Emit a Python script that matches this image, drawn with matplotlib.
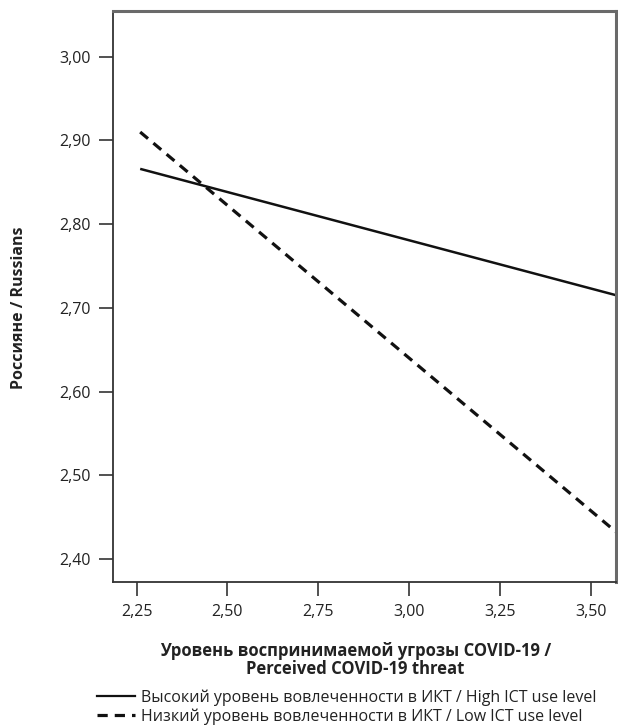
import matplotlib.pyplot as plt
from matplotlib.lines import Line2D
from matplotlib.ticker import FuncFormatter

plt.rcParams['font.family'] = ['Open Sans', 'DejaVu Sans']
plt.rcParams['font.size'] = 11.5

# данные (оценка по картинке)
x_vals = [2.26, 3.57]
high_ict = [2.866, 2.715]   # Высокий уровень
low_ict = [2.910, 2.432]    # Низкий уровень

x_ticks = [2.25, 2.50, 2.75, 3.00, 3.25, 3.50]
y_ticks = [2.40, 2.50, 2.60, 2.70, 2.80, 2.90, 3.00]

fig = plt.figure(figsize=(6.18, 7.27), dpi=100)
ax = fig.add_axes([0.1833, 0.1994, 0.8135, 0.7855])

ax.plot(x_vals, high_ict, color='#111111', lw=1.8, solid_capstyle='butt')
ax.plot(x_vals, low_ict, color='#111111', lw=2.3, ls=(0, (3.2, 2.2)))

ax.set_xlim(2.186, 3.569)
ax.set_ylim(2.3725, 3.0546)
ax.set_xticks(x_ticks)
ax.set_yticks(y_ticks)

fmt = FuncFormatter(lambda v, p: f'{v:.2f}'.replace('.', ','))
ax.xaxis.set_major_formatter(fmt)
ax.yaxis.set_major_formatter(fmt)

ax.tick_params(length=10, width=1.2, color='#333333', pad=6, labelcolor='#222222')
for s in ['left', 'bottom']:
    ax.spines[s].set_color('#333333')
    ax.spines[s].set_linewidth(1.3)
for s in ['top', 'right']:
    ax.spines[s].set_color('#6a6a6a')
    ax.spines[s].set_linewidth(2.2)

fig.text(0.031, 0.576, 'Россияне / Russians', rotation=90, ha='center', va='center',
         fontweight='bold', fontsize=11.5, color='#222222')
fig.text(0.575, 0.0925, 'Уровень воспринимаемой угрозы COVID-19 /\nPerceived COVID-19 threat',
         ha='center', va='center', fontweight='bold', fontsize=12, color='#222222',
         linespacing=1.0)

handles = [Line2D([], [], color='#111111', lw=1.6),
           Line2D([], [], color='#111111', lw=2.3, ls=(0, (3.2, 2.2)))]
labels = ['Высокий уровень вовлеченности в ИКТ / High ICT use level',
          'Низкий уровень вовлеченности в ИКТ / Low ICT use level']
fig.legend(handles, labels, loc='lower left', bbox_to_anchor=(0.157, 0.003),
           frameon=False, borderpad=0, borderaxespad=0,
           handlelength=2.4, handletextpad=0.35, labelspacing=0.15,
           fontsize=11.5, labelcolor='#222222')

fig.savefig('out.png', dpi=100)
